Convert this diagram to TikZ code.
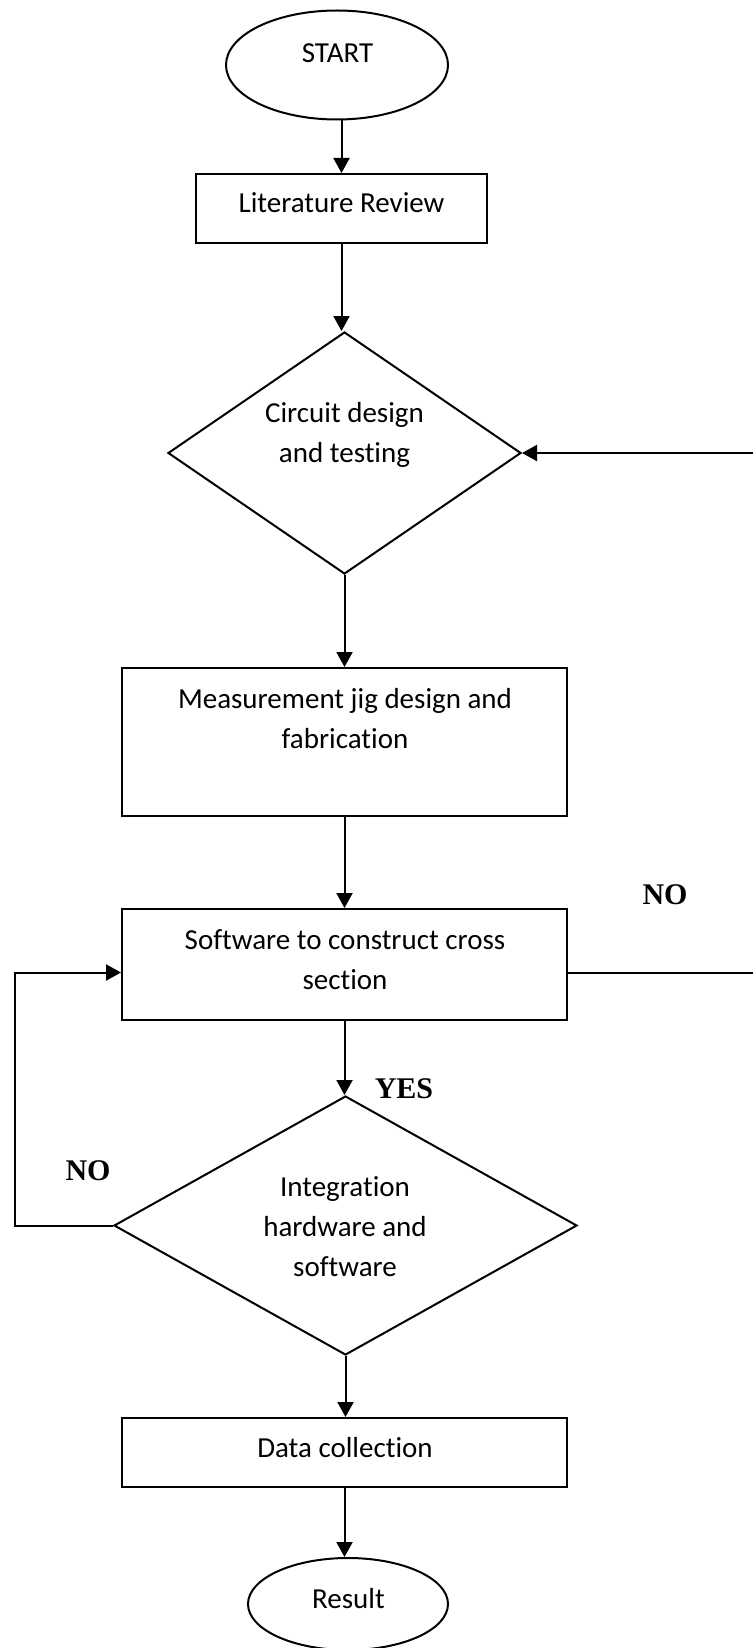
\documentclass[tikz,border=0pt]{standalone}
\usepackage{fontspec}
\setmainfont{Carlito}[Ligatures=NoCommon]
\newfontfamily\labelfont{Liberation Serif}
\usetikzlibrary{shapes.geometric,arrows.meta}

\tikzset{
  shp/.style={draw=black, line width=1pt, inner sep=0pt, fill=white},
  term/.style={shp, ellipse},
  proc/.style={shp, rectangle},
  decide/.style={shp, diamond},
  % base anchor sits on the last line of a multi-line text
  txt/.style={inner sep=0pt, anchor=base, align=center,
    font=\fontsize{14.5}{20}\selectfont},
  yn/.style={inner sep=0pt, anchor=base, font=\labelfont\bfseries\fontsize{15}{18}\selectfont},
  flow/.style={line width=1pt, -{Triangle[length=7.5pt,width=8pt]}},
  wire/.style={line width=1pt}
}

\begin{document}
\begin{tikzpicture}[x=0.5pt, y=-0.5pt]
  \useasboundingbox (0,0) rectangle (752,1648);

  % shapes
  \node[term, minimum width=111pt, minimum height=54.5pt] (start) at (337,65) {};
  \node[proc, minimum width=145.5pt, minimum height=34.5pt] (lit) at (341.5,208.5) {};
  \node[decide, minimum width=176.5pt, minimum height=121pt] (circ) at (344.5,453) {};
  \node[proc, minimum width=222.5pt, minimum height=74pt] (meas) at (344.5,742) {};
  \node[proc, minimum width=222.5pt, minimum height=55.5pt] (soft) at (344.5,964.5) {};
  \node[decide, minimum width=231.5pt, minimum height=129.5pt] (integ) at (345.5,1225.5) {};
  \node[proc, minimum width=222.5pt, minimum height=34.5pt] (data) at (344.5,1452.5) {};
  \node[term, minimum width=100pt, minimum height=46pt] (result) at (348,1604) {};

  % texts
  \node[txt] (tstart) at (337.5,63) {START};
  \node[txt] (tlit) at (341.5,213) {Literature Review};
  \node[txt] (tcirc) at (344.5,462) {Circuit design\\and testing};
  \node[txt] (tmeas) at (345,748) {Measurement jig design and\\fabrication};
  \node[txt] (tsoft) at (345,989) {Software to construct cross\\section};
  \node[txt] (tinteg) at (345,1276) {Integration\\hardware and\\software};
  \node[txt] (tdata) at (345,1457) {Data collection};
  \node[txt] (tresult) at (348.5,1608) {Result};

  % branch labels
  \node[yn] (noright) at (665,904) {NO};
  \node[yn] (noleft) at (88,1180) {NO};
  \node[yn] (yes) at (404,1098) {YES};

  % helper coordinates at the picture edges
  \coordinate (redge) at (760,0);
  \coordinate (ledge) at (15,0);
  \coordinate (rin) at (760,453);

  % main flow
  \draw[flow] (start.south -| lit.north) -- (lit.north);
  \draw[flow] (lit.south) -- (lit.south |- circ.north);
  \draw[flow] (circ.south) -- (circ.south |- meas.north);
  \draw[flow] (meas.south) -- (soft.north);
  \draw[flow] (soft.south) -- (soft.south |- integ.north);
  \draw[flow] (integ.south) -- (integ.south |- data.north);
  \draw[flow] (data.south) -- (data.south |- result.north);

  % return paths
  \draw[flow] (rin) -- (circ.east);
  \draw[wire] ([yshift=-4pt]soft.east) -- ([yshift=-4pt]soft.east -| redge);
  \draw[flow] (integ.west) -- (integ.west -| ledge) |- ([yshift=-4pt]soft.west);
\end{tikzpicture}
\end{document}
